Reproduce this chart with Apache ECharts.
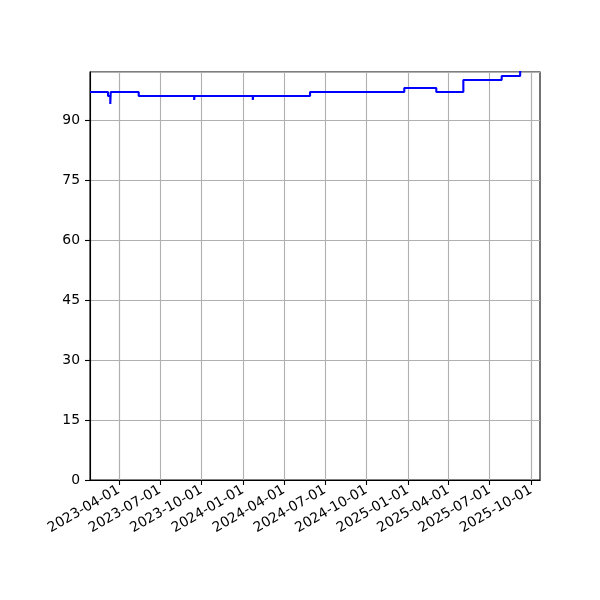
<!DOCTYPE html>
<html>
<head>
<meta charset="utf-8">
<script src="https://cdn.jsdelivr.net/npm/echarts@6/dist/echarts.min.js"></script>
<style>html,body{margin:0;padding:0;background:#fff}#c{width:600px;height:600px}</style>
</head>
<body>
<div id="c"></div>
<script>
// Data (step changes)
var dates = ['2023-01-27','2023-03-08','2023-03-13','2023-03-14','2023-05-15','2023-09-15','2023-09-16','2024-01-23','2024-01-24','2024-05-29','2024-12-24','2025-03-05','2025-05-04','2025-07-28','2025-09-07'];
var values = [97, 96, 94, 97, 96, 95, 96, 95, 96, 97, 98, 97, 100, 101, 104];
var xTicks = ['2023-04-01','2023-07-01','2023-10-01','2024-01-01','2024-04-01','2024-07-01','2024-10-01','2025-01-01','2025-04-01','2025-07-01','2025-10-01'];
var xMin = '2023-01-27', xMax = '2025-10-21';
var yMin = 0, yMax = 102, yStep = 15;

var seriesData = dates.map(function (d, i) { return [d, values[i]]; });
var font = 'DejaVu Sans';
var chart = echarts.init(document.getElementById('c'), null, {renderer: 'canvas'});
chart.setOption({
  animation: false,
  backgroundColor: '#fff',
  grid: {left: 90, right: 60, top: 72, bottom: 120, show: true, borderColor: '#000', borderWidth: 1.1, backgroundColor: 'transparent'},
  xAxis: {
    type: 'time', min: xMin, max: xMax,
    axisLine: {show: true, lineStyle: {color: '#000', width: 1.1}},
    axisTick: {show: true, length: 5, lineStyle: {color: '#000', width: 1.1}, customValues: xTicks},
    axisLabel: {customValues: xTicks, rotate: 30, margin: 9, color: '#000', fontFamily: font, fontSize: 13.9, formatter: '{yyyy}-{MM}-{dd}', hideOverlap: false},
    splitLine: {show: true, lineStyle: {color: '#b0b0b0', width: 1.1}}
  },
  yAxis: {
    type: 'value', min: yMin, max: yMax, interval: yStep,
    axisLine: {show: true, lineStyle: {color: '#000', width: 1.1}},
    axisTick: {show: true, length: 5, lineStyle: {color: '#000', width: 1.1}},
    axisLabel: {showMaxLabel: false, margin: 10, color: '#000', fontFamily: font, fontSize: 13.9},
    splitLine: {show: true, lineStyle: {color: '#b0b0b0', width: 1.1}}
  },
  series: [{
    type: 'line', data: seriesData, step: 'end', showSymbol: false, symbol: 'none', clip: true,
    lineStyle: {color: '#0000ff', width: 2.1}
  }]
});
</script>
</body>
</html>
